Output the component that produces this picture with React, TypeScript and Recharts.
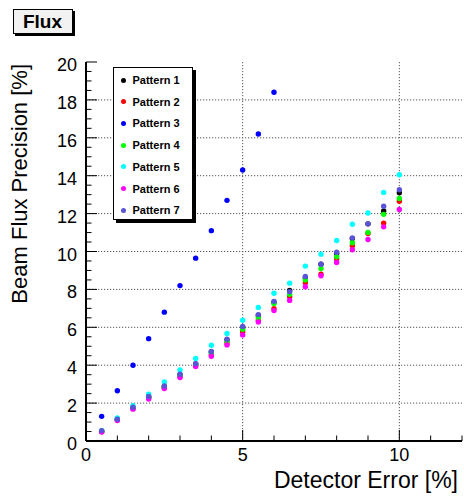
import React from 'react';
import {
  ScatterChart,
  Scatter,
  XAxis,
  YAxis,
  CartesianGrid,
} from 'recharts';

const FONT = '"Liberation Sans", Arial, Helvetica, sans-serif';

const X_VALUES = [0.5, 1, 1.5, 2, 2.5, 3, 3.5, 4, 4.5, 5, 5.5, 6, 6.5, 7, 7.5, 8, 8.5, 9, 9.5, 10];

const PATTERN_1 = [0.52, 1.14, 1.76, 2.33, 2.88, 3.5, 4.06, 4.7, 5.33, 6.0, 6.62, 7.32, 7.95, 8.62, 9.33, 9.9, 10.68, 11.46, 12.14, 13.1];
const PATTERN_2 = [0.5, 1.12, 1.72, 2.28, 2.8, 3.4, 3.98, 4.55, 5.15, 5.77, 6.37, 6.98, 7.61, 8.35, 8.8, 9.61, 10.3, 10.95, 11.5, 12.65];
const PATTERN_3 = [1.3, 2.65, 4.0, 5.4, 6.8, 8.2, 9.65, 11.1, 12.7, 14.3, 16.2, 18.4];
const PATTERN_4 = [0.5, 1.12, 1.74, 2.3, 2.85, 3.45, 4.02, 4.65, 5.25, 5.9, 6.5, 7.25, 7.74, 8.5, 9.1, 9.72, 10.46, 11.0, 11.96, 12.8];
const PATTERN_5 = [0.54, 1.21, 1.86, 2.47, 3.12, 3.75, 4.35, 5.05, 5.67, 6.37, 7.05, 7.8, 8.33, 9.23, 9.86, 10.58, 11.44, 12.03, 13.12, 14.05];
const PATTERN_6 = [0.47, 1.08, 1.68, 2.22, 2.77, 3.35, 3.93, 4.47, 5.07, 5.6, 6.28, 6.88, 7.42, 8.14, 8.72, 9.42, 10.09, 10.63, 11.3, 12.22];
const PATTERN_7 = [0.55, 1.15, 1.78, 2.35, 2.9, 3.52, 4.08, 4.72, 5.37, 6.04, 6.67, 7.37, 7.88, 8.68, 9.33, 9.96, 10.72, 11.46, 12.39, 13.26];

const SERIES = [
  { name: 'Pattern 1', color: '#000000', values: PATTERN_1 },
  { name: 'Pattern 2', color: '#ff0000', values: PATTERN_2 },
  { name: 'Pattern 3', color: '#0000ff', values: PATTERN_3 },
  { name: 'Pattern 4', color: '#00ff00', values: PATTERN_4 },
  { name: 'Pattern 5', color: '#00ffff', values: PATTERN_5 },
  { name: 'Pattern 6', color: '#ff00ff', values: PATTERN_6 },
  { name: 'Pattern 7', color: '#5a54d8', values: PATTERN_7 },
];

const X_TICKS = [0, 1, 2, 3, 4, 5, 6, 7, 8, 9, 10, 11, 12];
const X_MAJOR = [0, 5, 10];
const Y_TICKS = Array.from({ length: 41 }, (_, i) => i * 0.5);
const Y_MAJOR = [0, 2, 4, 6, 8, 10, 12, 14, 16, 18, 20];
const GRID_X = [5, 10];
const GRID_Y = [2, 4, 6, 8, 10, 12, 14, 16, 18];

const MAJOR_LEN = 11;
const MINOR_LEN = 5.5;

function BottomTick({ x, y, payload }: any) {
  const major = X_MAJOR.includes(payload.value);
  return (
    <g>
      <line x1={x} y1={y} x2={x} y2={y - (major ? MAJOR_LEN : MINOR_LEN)} stroke="#000" />
      {major && (
        <text x={x} y={y + 20} textAnchor="middle" fontSize={18} fontFamily={FONT} fill="#000">
          {payload.value}
        </text>
      )}
    </g>
  );
}

function TopTick({ x, y, payload }: any) {
  const major = X_MAJOR.includes(payload.value);
  return <line x1={x} y1={y} x2={x} y2={y + (major ? MAJOR_LEN : MINOR_LEN)} stroke="#000" />;
}

function LeftTick({ x, y, payload }: any) {
  const major = Y_MAJOR.includes(payload.value);
  return (
    <g>
      <line x1={x} y1={y} x2={x + (major ? MAJOR_LEN : MINOR_LEN)} y2={y} stroke="#000" />
      {major && (
        <text x={x - 9} y={y + 9} textAnchor="end" fontSize={18} fontFamily={FONT} fill="#000">
          {payload.value}
        </text>
      )}
    </g>
  );
}

function RightTick({ x, y, payload }: any) {
  const major = Y_MAJOR.includes(payload.value);
  return <line x1={x} y1={y} x2={x - (major ? MAJOR_LEN : MINOR_LEN)} y2={y} stroke="#000" />;
}

function XTitle({ viewBox }: any) {
  return (
    <text x={viewBox.x + viewBox.width - 4} y={488} textAnchor="end" fontSize={23} fontFamily={FONT} fill="#000">
      Detector Error [%]
    </text>
  );
}

function YTitle({ viewBox }: any) {
  const cx = 27;
  const cy = viewBox.y + 2;
  return (
    <text
      x={cx}
      y={cy}
      transform={`rotate(-90 ${cx} ${cy})`}
      textAnchor="end"
      fontSize={22}
      fontFamily={FONT}
      fill="#000"
    >
      Beam Flux Precision [%]
    </text>
  );
}

const dot = (color: string) => (props: any) => (
  <circle cx={props.cx} cy={props.cy} r={2.7} fill={color} />
);

export default function App() {
  return (
    <div style={{ position: 'absolute', left: 0, top: 0, width: 464, height: 497, background: '#fff', fontFamily: FONT }}>
      <ScatterChart width={464} height={497} margin={{ top: 62, right: 2, bottom: 0, left: 0 }}>
        <CartesianGrid
          stroke="#555"
          strokeDasharray="1.2 1.8"
          horizontalValues={GRID_Y}
          verticalValues={GRID_X}
        />
        <XAxis
          type="number"
          dataKey="x"
          domain={[0, 12]}
          ticks={X_TICKS}
          interval={0}
          height={56}
          tickSize={0}
          tickMargin={0}
          tick={<BottomTick />}
          axisLine={{ stroke: '#000', strokeWidth: 2 }}
          label={<XTitle />}
        />
        <XAxis
          xAxisId="top"
          orientation="top"
          type="number"
          domain={[0, 12]}
          ticks={X_TICKS}
          interval={0}
          height={0}
          tickSize={0}
          tickMargin={0}
          tick={<TopTick />}
          axisLine={{ stroke: '#000', strokeWidth: 1.5 }}
        />
        <YAxis
          type="number"
          dataKey="y"
          domain={[0, 20]}
          ticks={Y_TICKS}
          interval={0}
          width={86}
          tickSize={0}
          tickMargin={0}
          tick={<LeftTick />}
          axisLine={{ stroke: '#000', strokeWidth: 2 }}
          label={<YTitle />}
        />
        <YAxis
          yAxisId="right"
          orientation="right"
          type="number"
          domain={[0, 20]}
          ticks={Y_TICKS}
          interval={0}
          width={0}
          tickSize={0}
          tickMargin={0}
          tick={<RightTick />}
          axisLine={{ stroke: '#000', strokeWidth: 1.5 }}
        />
        {SERIES.map((s) => (
          <Scatter
            key={s.name}
            name={s.name}
            data={s.values.map((v, i) => ({ x: X_VALUES[i], y: v }))}
            fill={s.color}
            shape={dot(s.color)}
            isAnimationActive={false}
          />
        ))}
      </ScatterChart>

      <div
        style={{
          position: 'absolute',
          left: 12.5,
          top: 9,
          width: 58,
          height: 23,
          border: '1px solid #000',
          boxShadow: '2px 2px 0 #000',
          background: '#f2f2f2',
          fontWeight: 'bold',
          fontSize: 19,
          lineHeight: '23px',
          textAlign: 'center',
        }}
      >
        Flux
      </div>

      <div
        style={{
          position: 'absolute',
          left: 112.5,
          top: 66.5,
          width: 78,
          height: 151,
          border: '1px solid #000',
          boxShadow: '3px 3px 0 #000',
          background: '#fff',
        }}
      >
        {SERIES.map((s, i) => (
          <div key={s.name} style={{ position: 'absolute', left: 0, top: 12.5 + i * 21.7 - 7, height: 14, width: 78 }}>
            <span
              style={{
                position: 'absolute',
                left: 7.5,
                top: 4.5,
                width: 5,
                height: 5,
                borderRadius: '50%',
                background: s.color,
              }}
            />
            <span
              style={{
                position: 'absolute',
                left: 19,
                top: 0,
                fontSize: 11,
                fontWeight: 'bold',
                lineHeight: '14px',
                whiteSpace: 'nowrap',
              }}
            >
              {s.name}
            </span>
          </div>
        ))}
      </div>
    </div>
  );
}
